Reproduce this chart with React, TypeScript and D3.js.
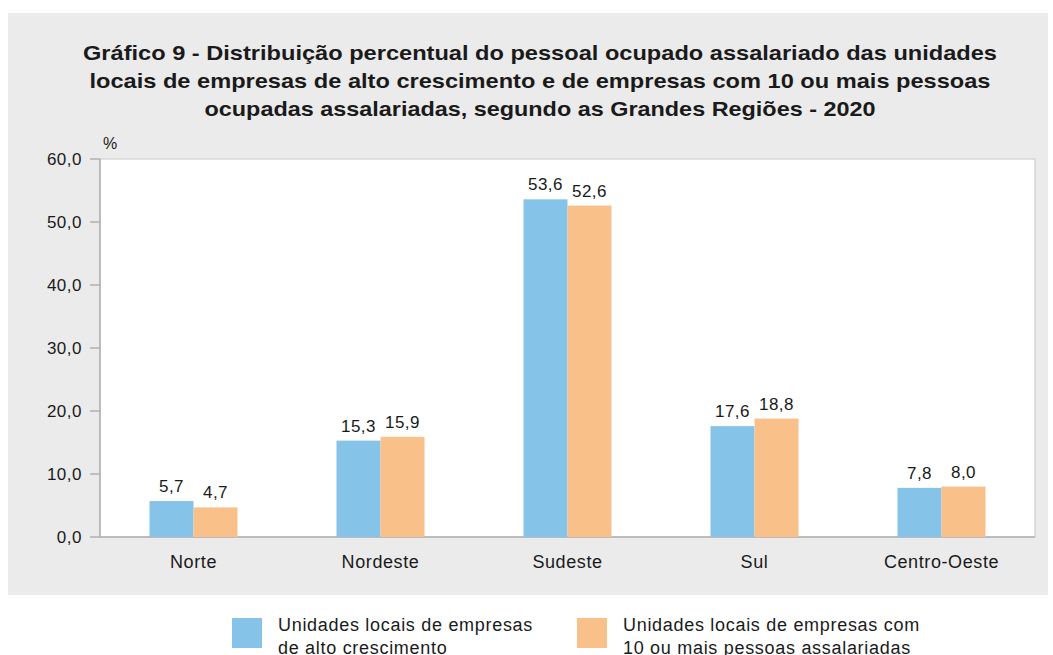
import React from "react";
import * as d3 from "d3";

const categories = ["Norte", "Nordeste", "Sudeste", "Sul", "Centro-Oeste"];
const altoCrescimento = [5.7, 15.3, 53.6, 17.6, 7.8];
const dezOuMais = [4.7, 15.9, 52.6, 18.8, 8.0];
const yTicks = [0, 10, 20, 30, 40, 50, 60];
const seriesNames = [
  ["Unidades locais de empresas", "de alto crescimento"],
  ["Unidades locais de empresas com", "10 ou mais pessoas assalariadas"],
];
const titleLines = [
  "Gráfico 9 - Distribuição percentual do pessoal ocupado assalariado das unidades",
  "locais de empresas de alto crescimento e de empresas com 10 ou mais pessoas",
  "ocupadas assalariadas, segundo as Grandes Regiões - 2020",
];
const titleWidths = [914, 901, 671];

const W = 1053, H = 655;
const plot = { left: 100, right: 1035, top: 159, bottom: 537 };
const colors = ["#85C3E9", "#F9C08A"];
const fmt = (v: number) => v.toFixed(1).replace(".", ",");
const font = "'Liberation Sans', Arial, sans-serif";

export default function App() {
  const x = d3.scaleBand<string>().domain(categories).range([plot.left, plot.right]);
  const y = d3.scaleLinear().domain([0, 60]).range([plot.bottom, plot.top]);
  const inner = d3.scaleBand<number>().domain([0, 1]).range([0, 88]);
  const series = [altoCrescimento, dezOuMais];
  return (
    <svg width={W} height={H} style={{ position: "absolute", left: 0, top: 0 }}>
      <rect x={0} y={0} width={W} height={H} fill="#fff" />
      <rect x={8} y={13} width={1040} height={582} fill="#EBEBEB" />
      {titleLines.map((t, i) => (
        <text key={i} x={540} y={60 + i * 28} textAnchor="middle" fontFamily={font} fontWeight="bold" fontSize={21}
          textLength={titleWidths[i]} lengthAdjust="spacingAndGlyphs" fill="#1a1a1a">{t}</text>
      ))}
      <rect x={plot.left} y={plot.top} width={plot.right - plot.left} height={plot.bottom - plot.top} fill="#fff" stroke="#c8c8c8" strokeWidth={1} />
      <line x1={plot.left} x2={plot.left} y1={plot.top} y2={plot.bottom} stroke="#b0b0b0" strokeWidth={1.5} />
      <line x1={plot.left} x2={plot.right} y1={plot.bottom} y2={plot.bottom} stroke="#b0b0b0" strokeWidth={1.5} />
      {yTicks.map((t) => (
        <g key={t}>
          <line x1={90} x2={plot.left} y1={y(t)} y2={y(t)} stroke="#b0b0b0" strokeWidth={1.5} />
          <text x={82} y={y(t) + 6} textAnchor="end" fontFamily={font} fontSize={17} letterSpacing={0.5} fill="#1a1a1a">{fmt(t)}</text>
        </g>
      ))}
      <text x={103} y={149} fontFamily={font} fontSize={16} fill="#1a1a1a">%</text>
      {categories.map((c, ci) => {
        const cx = (x(c) as number) + x.bandwidth() / 2;
        return (
          <g key={c}>
            {series.map((s, si) => {
              const bx = cx - 44 + (inner(si) as number);
              const v = s[ci];
              return (
                <g key={si}>
                  <rect x={bx} y={y(v)} width={inner.bandwidth()} height={plot.bottom - y(v)} fill={colors[si]} />
                  <text x={bx + inner.bandwidth() / 2} y={y(v) - 9} textAnchor="middle" fontFamily={font} fontSize={17} letterSpacing={0.5} fill="#1a1a1a">{fmt(v)}</text>
                </g>
              );
            })}
            <text x={cx} y={568} textAnchor="middle" fontFamily={font} fontSize={18} letterSpacing={0.6} fill="#1a1a1a">{c}</text>
          </g>
        );
      })}
      {seriesNames.map((lines, i) => {
        const lx = i === 0 ? 232 : 577;
        return (
          <g key={i}>
            <rect x={lx} y={618} width={30} height={30} fill={colors[i]} />
            {lines.map((l, j) => (
              <text key={j} x={lx + 46} y={631 + j * 23} fontFamily={font} fontSize={18} letterSpacing={0.7} fill="#1a1a1a">{l}</text>
            ))}
          </g>
        );
      })}
    </svg>
  );
}
